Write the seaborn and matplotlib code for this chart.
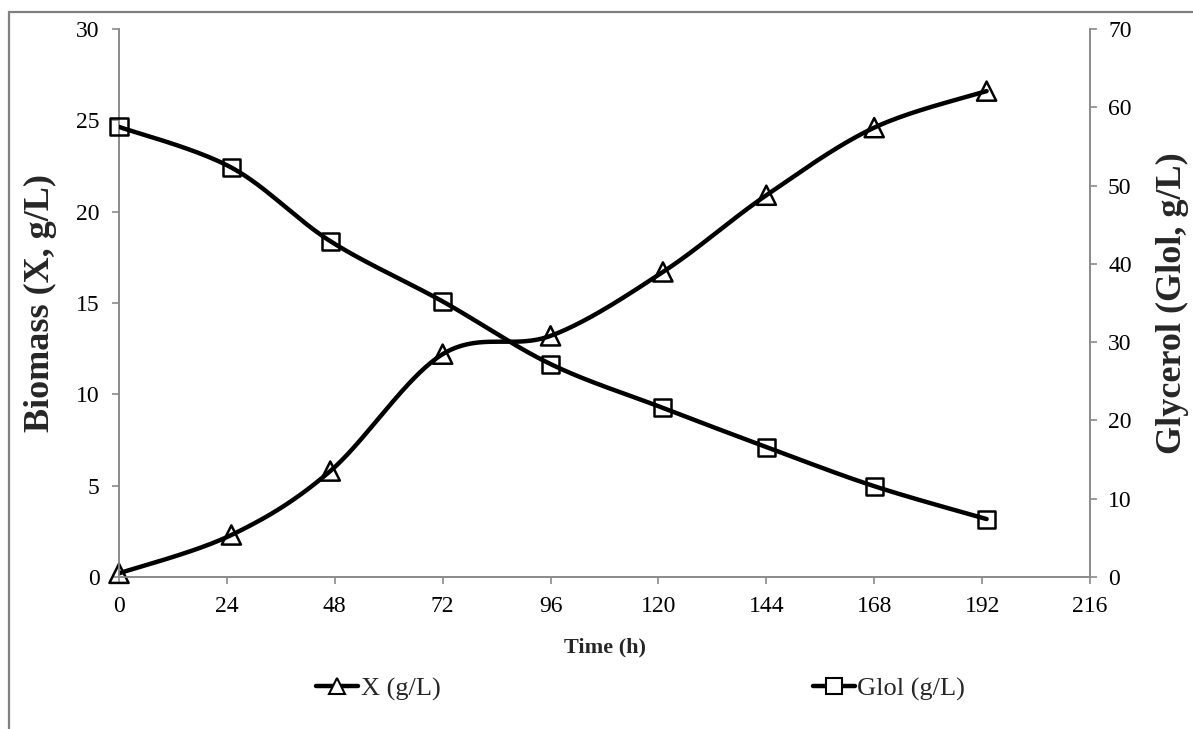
import numpy as np
import pandas as pd
import seaborn as sns
import matplotlib.pyplot as plt
from matplotlib.lines import Line2D
from matplotlib.patches import Rectangle

# data
time_h = [0, 25, 47, 72, 96, 121, 144, 168, 193]
biomass = [0.2, 2.3, 5.8, 12.2, 13.2, 16.7, 20.9, 24.6, 26.6]
glycerol = [57.5, 52.3, 42.9, 35.2, 27.2, 21.6, 16.6, 11.6, 7.4]
x_ticks = list(range(0, 217, 24))
left_ticks = list(range(0, 31, 5))
right_ticks = list(range(0, 71, 10))


def smooth(x, y, n=40):
    # Excel-like smoothed line (Catmull-Rom as cubic Bezier)
    p = np.column_stack([x, y]).astype(float)
    p = np.vstack([p[0], p, p[-1]])
    t = np.linspace(0, 1, n)[:, None]
    out = []
    for i in range(1, len(p) - 2):
        p0, p1, p2, p3 = p[i - 1], p[i], p[i + 1], p[i + 2]
        c1 = p1 + (p2 - p0) / 6
        c2 = p2 - (p3 - p1) / 6
        seg = (1 - t) ** 3 * p1 + 3 * (1 - t) ** 2 * t * c1 + 3 * (1 - t) * t ** 2 * c2 + t ** 3 * p2
        out.append(seg if i == 1 else seg[1:])
    out = np.vstack(out)
    return pd.DataFrame({"x": out[:, 0], "y": out[:, 1]})


sns.set_style("white")
plt.rcParams["font.family"] = ["Liberation Serif", "DejaVu Serif"]
grey = "#8a8a8a"

fig = plt.figure(figsize=(11.93, 7.29), dpi=100)
ax = fig.add_axes([119 / 1193, 1 - 577 / 729, 971 / 1193, 548 / 729])
ax2 = ax.twinx()

df_x = pd.DataFrame({"t": time_h, "v": biomass})
df_g = pd.DataFrame({"t": time_h, "v": glycerol})

sx = smooth(time_h, biomass)
sg = smooth(time_h, glycerol)
sns.lineplot(data=sx, x="x", y="y", sort=False, color="black", linewidth=3.2, ax=ax, zorder=3)
sns.lineplot(data=sg, x="x", y="y", sort=False, color="black", linewidth=3.2, ax=ax2, zorder=3)
sns.scatterplot(data=df_x, x="t", y="v", marker="^", s=190, facecolor="none",
                edgecolor="black", linewidth=1.8, ax=ax, zorder=4, clip_on=False)
sns.scatterplot(data=df_g, x="t", y="v", marker="s", s=150, facecolor="none",
                edgecolor="black", linewidth=1.8, ax=ax2, zorder=4, clip_on=False)

ax.set_xlim(0, 216)
ax.set_ylim(0, 30)
ax2.set_ylim(0, 70)
ax.set_xticks(x_ticks)
ax.set_yticks(left_ticks)
ax2.set_yticks(right_ticks)

for a in (ax, ax2):
    for s in a.spines.values():
        s.set_color(grey)
        s.set_linewidth(1.2)
    a.spines["top"].set_visible(False)
    a.tick_params(colors=grey, labelcolor="black", labelsize=17, length=5, width=1.2,
                  direction="out")
ax.tick_params(axis="y", pad=9, left=True)
ax.tick_params(axis="x", pad=9, bottom=True)
ax2.tick_params(axis="y", pad=8, right=True)

ax.set_xlabel("Time (h)", fontsize=16, fontweight="bold")
ax.xaxis.set_label_coords(0.5, -0.11)
ax.set_ylabel("Biomass (X, g/L)", fontsize=26, fontweight="bold")
ax.yaxis.set_label_coords(-0.064, 0.5)
ax2.set_ylabel("Glycerol (Glol, g/L)", fontsize=26, fontweight="bold")
ax2.yaxis.set_label_coords(1.068, 0.5)

handles = [
    Line2D([], [], color="black", linewidth=3.2, marker="^", markersize=12,
           markerfacecolor="white", markeredgecolor="black", markeredgewidth=1.5),
    Line2D([], [], color="black", linewidth=3.2, marker="s", markersize=11,
           markerfacecolor="white", markeredgecolor="black", markeredgewidth=1.5),
]
fig.legend(handles, ["X (g/L)", "Glol (g/L)"], loc="center", ncol=2,
           bbox_to_anchor=(0.537, 1 - 689 / 729), frameon=False, fontsize=19,
           handlelength=1.6, handletextpad=0.1, columnspacing=14.1)

fig.patches.append(Rectangle((9 / 1193, -0.05), 1.1, 1 - 12 / 729 + 0.05, transform=fig.transFigure,
                             fill=False, edgecolor="#808080", linewidth=1.6, clip_on=False))

fig.savefig("out.png", dpi=100)
